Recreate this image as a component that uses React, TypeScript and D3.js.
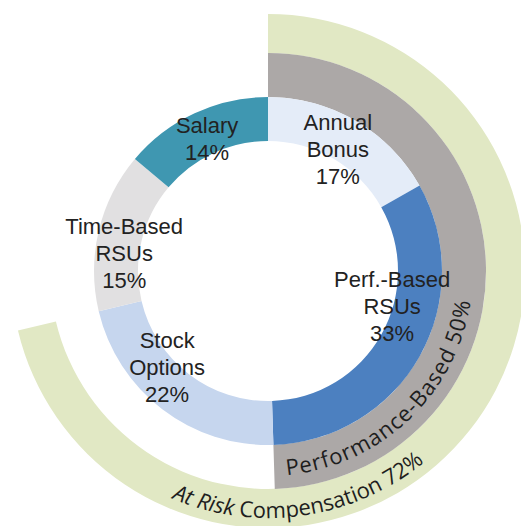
import React, { useEffect, useRef } from "react";
import * as d3 from "d3";

// inner ring, clockwise from 12 o'clock
const components = ["Annual Bonus", "Perf.-Based RSUs", "Stock Options", "Time-Based RSUs", "Salary"];
const shares = [17, 33, 22, 15, 14];
const labelLines = [
  ["Annual", "Bonus", "17%"],
  ["Perf.-Based", "RSUs", "33%"],
  ["Stock", "Options", "22%"],
  ["Time-Based", "RSUs", "15%"],
  ["Salary", "14%"],
];
const sliceColors = ["#e4ecf8", "#4c80c0", "#c6d6ee", "#e1e0e1", "#3f97b1"];

// outer rings, both start at 12 o'clock
const groupNames = ["Performance-Based", "At Risk Compensation"];
const groupShares = [50, 72];

// where each label block sits (angle shift in degrees, radius)
const labelPlace: Record<string, [number, number]> = {
  "Annual Bonus": [-0.6, 141],
  "Perf.-Based RSUs": [-13.6, 129],
  "Stock Options": [9.1, 139],
  "Time-Based RSUs": [-6.1, 145],
  Salary: [0.3, 146],
};

const App = () => {
  const ref = useRef<SVGSVGElement>(null);

  useEffect(() => {
    const width = 521;
    const height = 526;
    const cx = 268;
    const cy = 271;
    const rIn0 = 130, rIn1 = 174;
    const rMid1 = 218;
    const rOut1 = 257;

    const svg = d3.select(ref.current).attr("width", width).attr("height", height);
    svg.selectAll("*").remove();

    const g = svg.append("g").attr("transform", `translate(${cx},${cy})`);

    const total = d3.sum(shares);
    const angle = d3.scaleLinear().domain([0, total]).range([0, 2 * Math.PI]);

    // outer band: at risk
    g.append("path")
      .attr("d", d3.arc()({ innerRadius: rMid1, outerRadius: rOut1, startAngle: 0, endAngle: angle(groupShares[1]) }) as string)
      .attr("fill", "#e1e8c4");

    // middle band: performance based
    g.append("path")
      .attr("d", d3.arc()({ innerRadius: rIn1, outerRadius: rMid1, startAngle: 0, endAngle: angle(groupShares[0]) }) as string)
      .attr("fill", "#aca8a7");

    // inner donut
    const pie = d3.pie<number>().sort(null).value((d) => d);
    const arcs = pie(shares);
    const arc = d3.arc<d3.PieArcDatum<number>>().innerRadius(rIn0).outerRadius(rIn1);

    g.selectAll("path.slice")
      .data(arcs)
      .enter()
      .append("path")
      .attr("class", "slice")
      .attr("d", arc)
      .attr("fill", (_, i) => sliceColors[i]);

    const lineH = 27;
    arcs.forEach((a, i) => {
      const [shift, r] = labelPlace[components[i]];
      const mid = (a.startAngle + a.endAngle) / 2 + (shift * Math.PI) / 180;
      const x = r * Math.sin(mid);
      const y = -r * Math.cos(mid);
      const lines = labelLines[i];
      const t = g.append("text")
        .attr("text-anchor", "middle")
        .attr("font-family", "'Liberation Sans', Arial, sans-serif")
        .attr("font-size", 22)
        .attr("fill", "#222");
      lines.forEach((ln, j) => {
        t.append("tspan")
          .attr("x", x)
          .attr("y", y + (j - (lines.length - 1) / 2) * lineH + 8)
          .text(ln);
      });
    });

    // curved captions, running counter-clockwise with tops toward the center
    const defs = svg.append("defs");
    const ccwPath = (r: number, midDeg: number, half: number) => {
      const a0 = ((midDeg + half) * Math.PI) / 180;
      const a1 = ((midDeg - half) * Math.PI) / 180;
      return `M${r * Math.sin(a0)},${-r * Math.cos(a0)} A${r},${r} 0 0 0 ${r * Math.sin(a1)},${-r * Math.cos(a1)}`;
    };
    defs.append("path").attr("id", "perfPath").attr("d", ccwPath(205, 136.6, 85));
    defs.append("path").attr("id", "riskPath").attr("d", ccwPath(247, 171.8, 85));

    const perf = g.append("text")
      .attr("font-family", "'Open Sans', sans-serif")
      .attr("font-size", 22)
      .attr("letter-spacing", 1)
      .attr("fill", "#1e1e1e")
      .attr("text-anchor", "middle");
    perf.append("textPath")
      .attr("href", "#perfPath")
      .attr("startOffset", "50%")
      .text(`${groupNames[0]} ${groupShares[0]}%`);

    const risk = g.append("text")
      .attr("font-family", "'Open Sans', sans-serif")
      .attr("font-size", 22)
      .attr("fill", "#1e1e1e")
      .attr("text-anchor", "middle");
    const rp = risk.append("textPath").attr("href", "#riskPath").attr("startOffset", "50%");
    const [italicPart, ...rest] = groupNames[1].split(" Compensation");
    rp.append("tspan").attr("font-style", "italic").text(italicPart);
    rp.append("tspan").text(` Compensation${rest.join("")} ${groupShares[1]}%`);
  }, []);

  return (
    <div>
      <svg ref={ref} style={{ position: "absolute", left: 0, top: 0, background: "white" }}></svg>
    </div>
  );
};

export default App;
